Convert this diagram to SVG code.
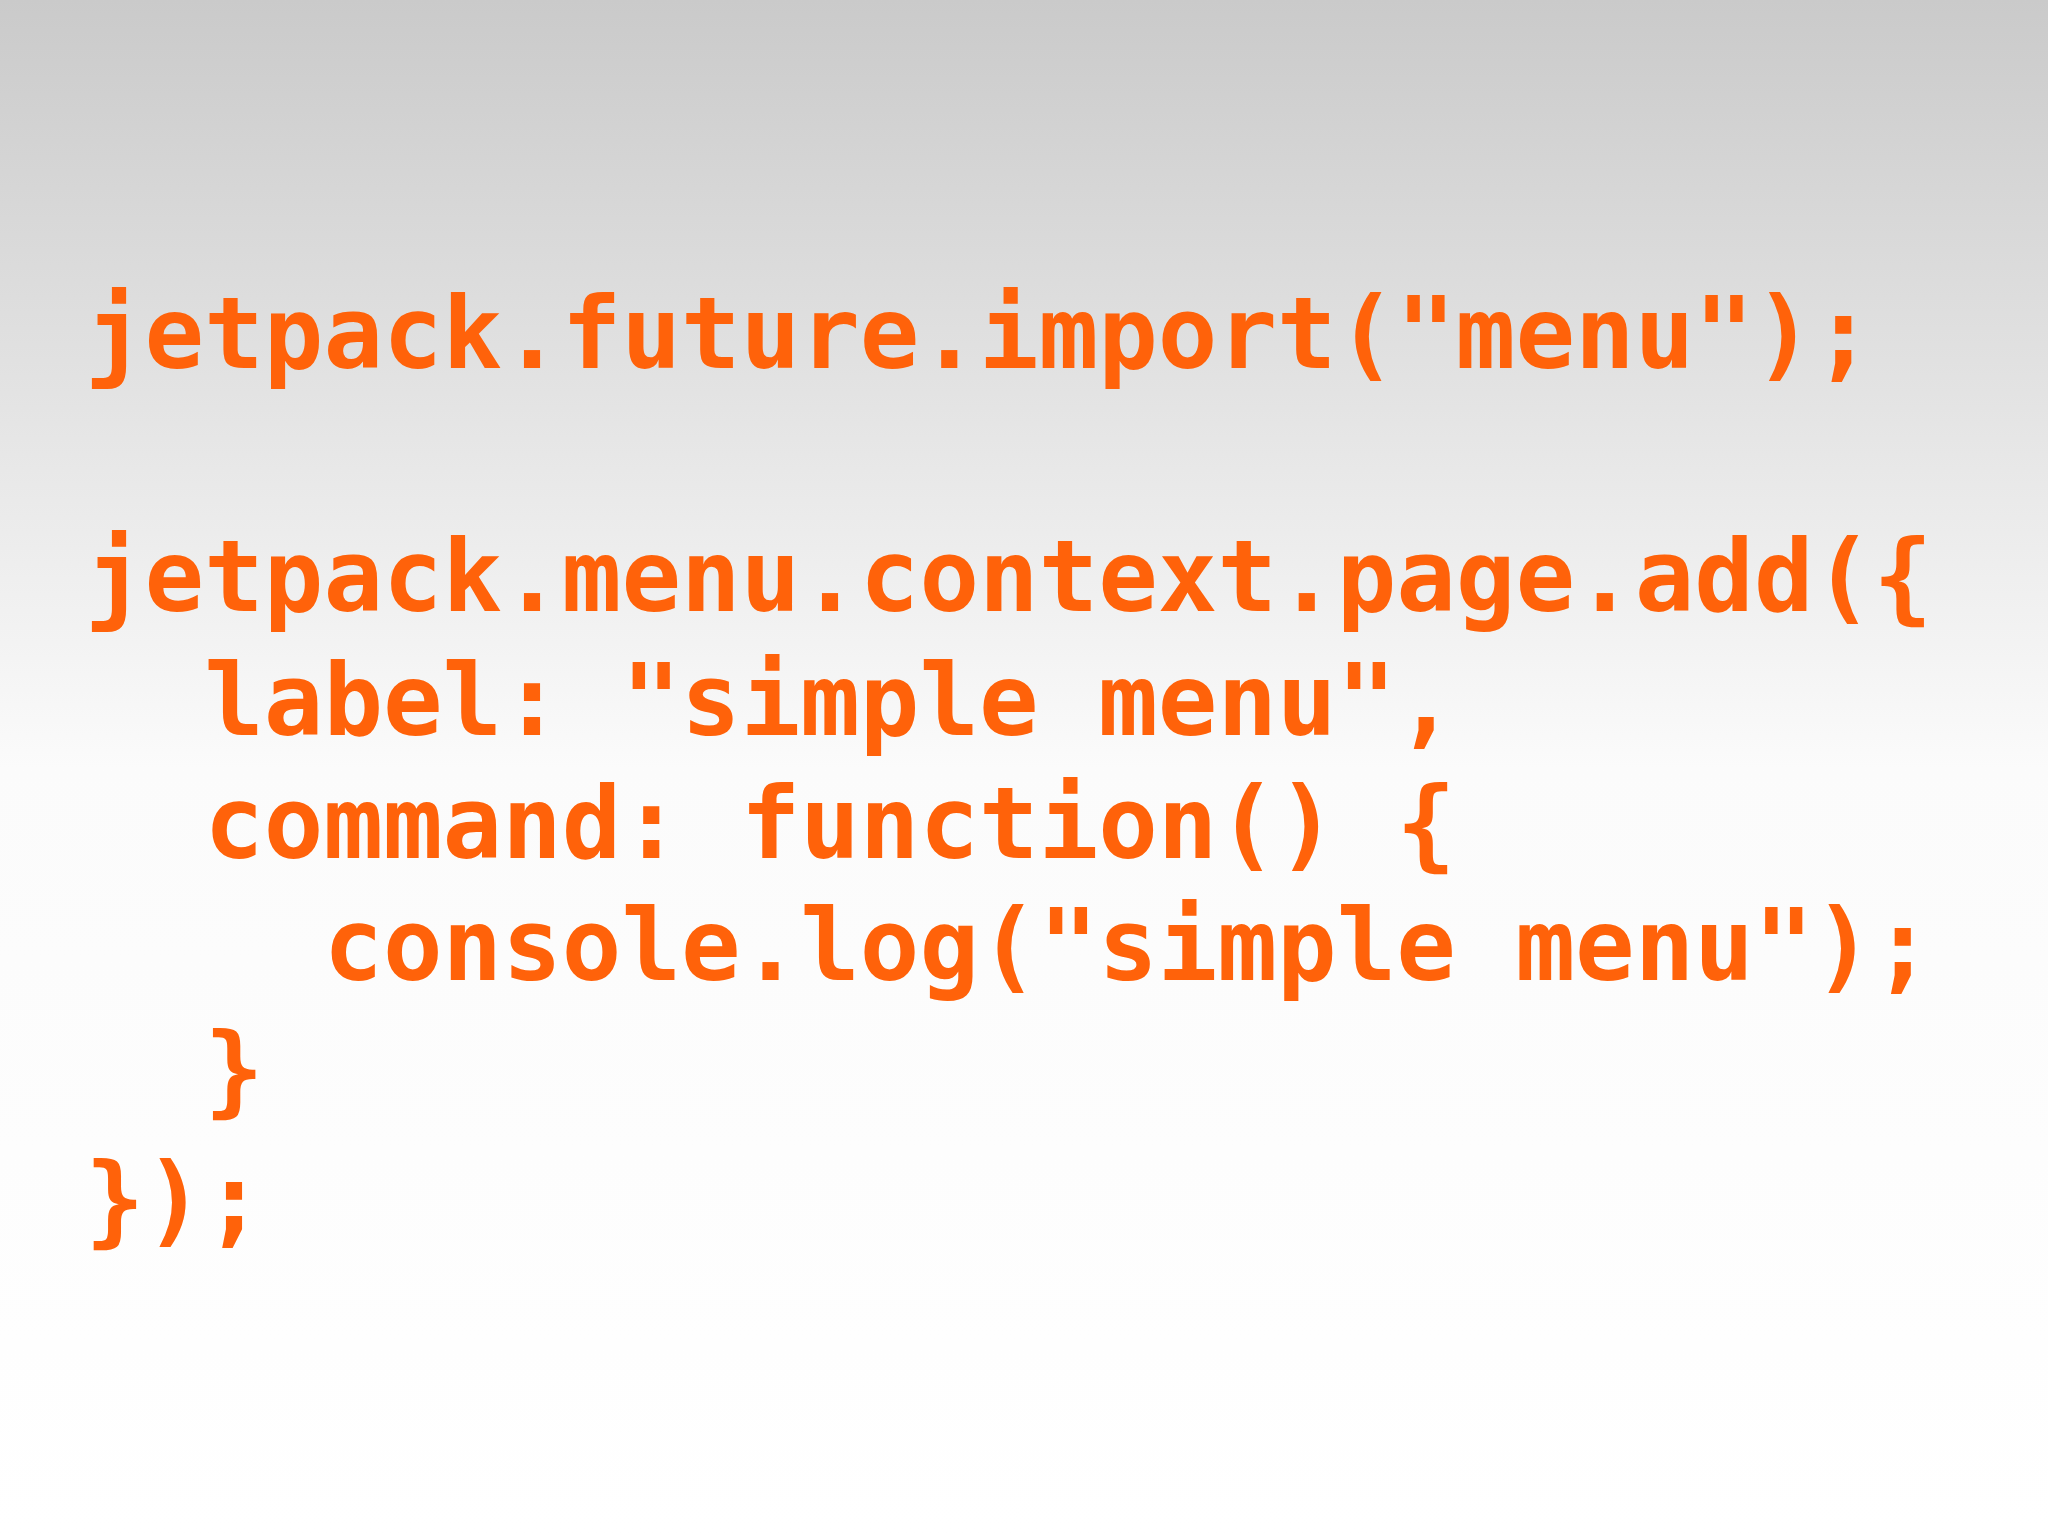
<svg xmlns="http://www.w3.org/2000/svg" width="2048" height="1535" viewBox="0 0 2048 1535">
<defs>
<linearGradient id="bg" x1="0" y1="0" x2="0" y2="1535" gradientUnits="userSpaceOnUse">
<stop offset="0" stop-color="#cacaca"/>
<stop offset="0.5" stop-color="#fbfbfb"/>
<stop offset="1" stop-color="#ffffff"/>
</linearGradient>
<style>.c{font-family:"DejaVu Sans Mono",monospace;font-weight:bold;font-size:99px;fill:#ff620a;white-space:pre}</style>
</defs>
<rect width="2048" height="1535" fill="url(#bg)"/>
<g id="code">
<text class="c" x="85" y="368">jetpack.future.import("menu");</text>
<text class="c" x="85" y="611">jetpack.menu.context.page.add({</text>
<text class="c" x="85" y="735">  label: "simple menu",</text>
<text class="c" x="85" y="858">  command: function() {</text>
<text class="c" x="85" y="980">    console.log("simple menu");</text>
<text class="c" x="85" y="1104">  }</text>
<text class="c" x="85" y="1234">});</text>
</g>
</svg>
